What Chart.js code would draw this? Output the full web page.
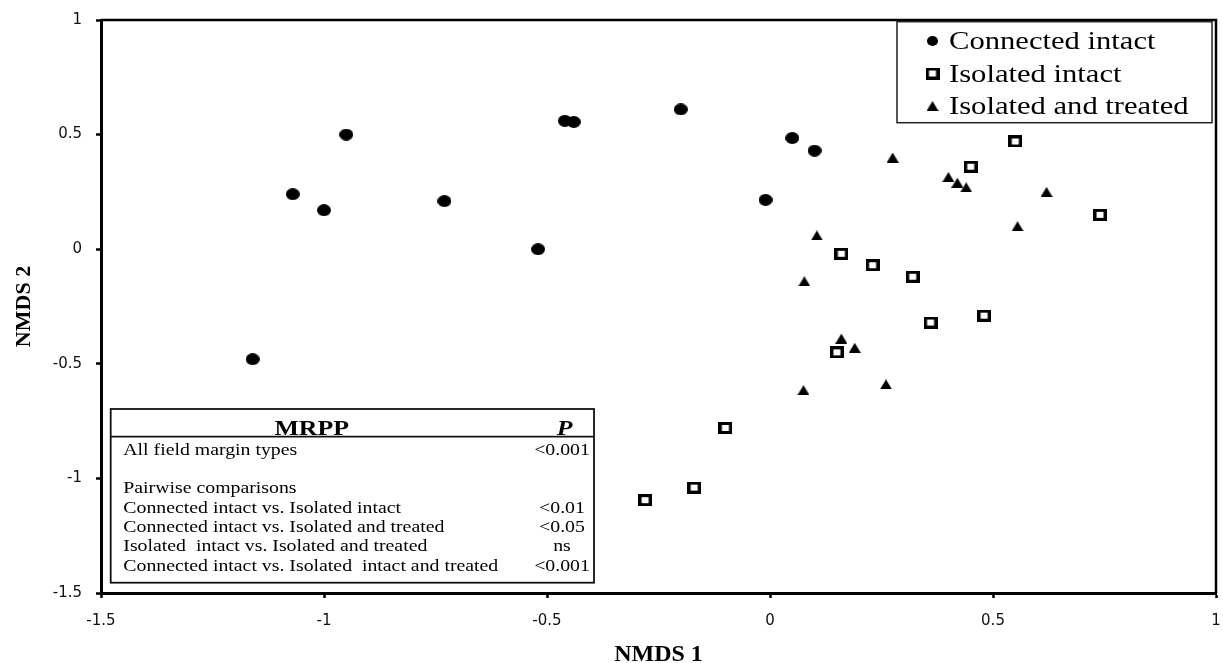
<!DOCTYPE html>
<html>
<head>
<meta charset="utf-8">
<title>NMDS ordination</title>
<script src="https://cdn.jsdelivr.net/npm/chart.js@4"></script>
<style>
  body { margin: 0; background: #fff; }
  canvas { display: block; }
</style>
</head>
<body>
<canvas id="graph-nmds" width="1223" height="663"></canvas>
<script>
// NMDS scores
const connectedX = [-1.16, -1.07, -1.00, -0.95, -0.73, -0.52, -0.46, -0.44, -0.20, -0.01, 0.05, 0.10]
const connectedY = [-0.48, 0.24, 0.17, 0.50, 0.21, 0.00, 0.56, 0.555, 0.61, 0.215, 0.485, 0.43]
const isolatedX = [-0.28, -0.17, -0.10, 0.15, 0.16, 0.23, 0.32, 0.36, 0.45, 0.48, 0.55, 0.74]
const isolatedY = [-1.095, -1.04, -0.78, -0.45, -0.02, -0.07, -0.12, -0.32, 0.36, -0.29, 0.47, 0.15]
const treatedX = [0.075, 0.077, 0.105, 0.16, 0.19, 0.26, 0.275, 0.40, 0.42, 0.44, 0.555, 0.62]
const treatedY = [-0.615, -0.14, 0.06, -0.39, -0.43, -0.59, 0.40, 0.315, 0.29, 0.27, 0.10, 0.25]

const seriesNames = ['Connected intact', 'Isolated intact', 'Isolated and treated']
const axisTicks = [-1.5, -1, -0.5, 0, 0.5, 1]

const mrppRows = ['All field margin types', '', 'Pairwise comparisons',
  'Connected intact vs. Isolated intact',
  'Connected intact vs. Isolated and treated',
  'Isolated  intact vs. Isolated and treated',
  'Connected intact vs. Isolated  intact and treated']
const mrppP = ['<0.001', '', '', '<0.01', '<0.05', 'ns', '<0.001']

// small canvases used as point styles
function marker(w, h, paint) {
  const c = document.createElement('canvas')
  c.width = w
  c.height = h
  paint(c.getContext('2d'), w, h)
  return c
}
const dot = (w, h) => marker(w, h, (g) => {
  g.fillStyle = '#000'
  g.beginPath()
  g.ellipse(w / 2, h / 2, w / 2, h / 2, 0, 0, Math.PI * 2)
  g.fill()
})
const box = (w, h) => marker(w, h, (g) => {
  g.fillStyle = '#000'
  g.fillRect(0, 0, w, h)
  g.fillStyle = '#fff'
  g.fillRect(3.5, 3, w - 7, h - 6)
})
const tri = (w, h) => marker(w, h, (g) => {
  g.fillStyle = '#000'
  g.beginPath()
  g.moveTo(w / 2, 0)
  g.lineTo(w, h)
  g.lineTo(0, h)
  g.closePath()
  g.fill()
})

const styles = [dot(14, 12), box(14, 12), tri(12, 10)]
const legendStyles = [dot(11, 10), box(14, 12), tri(12, 10)]

// the original figure is a bit wider than tall, so text is stretched
const SX = 1.2
function wide(ctx, text, x, y, align) {
  ctx.save()
  ctx.translate(x, y)
  ctx.scale(SX, 1)
  ctx.textAlign = align
  ctx.fillText(text, 0, 0)
  ctx.restore()
}

const extras = {
  id: 'extras',
  afterDraw(chart) {
    const {ctx, chartArea: a} = chart
    ctx.save()
    ctx.strokeStyle = '#000'
    ctx.lineWidth = 2.5
    ctx.beginPath()
    ctx.moveTo(a.left, a.top)
    ctx.lineTo(a.right, a.top)
    ctx.lineTo(a.right, a.bottom)
    ctx.stroke()

    // legend box, top right
    const lr = a.right - 4, lt = a.top + 1.7, ll = lr - 315
    ctx.fillStyle = '#fff'
    ctx.fillRect(ll, lt, 315, 101)
    ctx.strokeStyle = '#222'
    ctx.lineWidth = 1.5
    ctx.strokeRect(ll, lt, 315, 101)
    ctx.fillStyle = '#000'
    ctx.textBaseline = 'alphabetic'
    ctx.font = '25.5px "Liberation Serif"'
    chart.data.datasets.forEach((ds, i) => {
      const cy = lt + 19.3 + i * 32.5
      const img = legendStyles[i]
      ctx.drawImage(img, ll + 35.5 - img.width / 2, cy - img.height / 2)
      wide(ctx, ds.label, ll + 52, cy + 8.4, 'left')
    })

    // MRPP table, bottom left
    const tl = a.left + 9.7, tb = a.bottom - 10.3, tw = 483.3, th = 173.7
    const tt = tb - th
    ctx.fillStyle = '#fff'
    ctx.fillRect(tl, tt, tw, th)
    ctx.strokeStyle = '#111'
    ctx.lineWidth = 1.8
    ctx.strokeRect(tl, tt, tw, th)
    ctx.beginPath()
    ctx.moveTo(tl, tt + 27.7)
    ctx.lineTo(tl + tw, tt + 27.7)
    ctx.stroke()
    ctx.fillStyle = '#000'
    ctx.font = 'bold 21.5px "Liberation Serif"'
    wide(ctx, 'MRPP', tl + 201, tt + 26, 'center')
    ctx.font = 'italic bold 21.5px "Liberation Serif"'
    wide(ctx, 'P', tl + 454, tt + 26, 'center')
    ctx.font = '16.5px "Liberation Serif"'
    mrppRows.forEach((row, i) => {
      const by = tt + 40.3 + i * 19.3 + 5.5
      wide(ctx, row, tl + 12.6, by, 'left')
      if (mrppP[i]) wide(ctx, mrppP[i], tl + 451.3, by, 'center')
    })
    ctx.restore()
  }
}

const data = {
  datasets: [
    {label: seriesNames[0], data: connectedX.map((x, i) => ({x: x, y: connectedY[i]})), pointStyle: styles[0]},
    {label: seriesNames[1], data: isolatedX.map((x, i) => ({x: x, y: isolatedY[i]})), pointStyle: styles[1]},
    {label: seriesNames[2], data: treatedX.map((x, i) => ({x: x, y: treatedY[i]})), pointStyle: styles[2]}
  ].map(ds => Object.assign(ds, {pointRadius: 6, pointHoverRadius: 6, showLine: false}))
}

const tickFont = {family: '"DejaVu Sans"', size: 15}
const axisGrid = {drawOnChartArea: false, drawTicks: true, tickLength: 5, tickColor: '#000', tickWidth: 2.5, color: '#000'}
const axisBorder = {display: true, color: '#000', width: 3}

const config = {
  type: 'scatter',
  data: data,
  options: {
    responsive: false,
    animation: false,
    devicePixelRatio: 1,
    events: [],
    layout: {padding: {top: 20, right: 6, left: 0, bottom: 0}},
    plugins: {legend: {display: false}, tooltip: {enabled: false}},
    scales: {
      x: {
        type: 'linear', min: -1.5, max: 1,
        afterBuildTicks: s => { s.ticks = axisTicks.map(v => ({value: v})) },
        afterFit: s => { s.height = 70; s.paddingLeft = 0; s.paddingRight = 0 },
        grid: axisGrid, border: axisBorder,
        ticks: {font: tickFont, color: '#111', padding: 14, maxRotation: 0, callback: v => String(v)},
        title: {display: true, text: 'NMDS 1', color: '#000',
          font: {family: '"Liberation Serif"', size: 24, weight: 'bold', lineHeight: 1},
          padding: {top: 0, bottom: -4}}
      },
      y: {
        type: 'linear', min: -1.5, max: 1,
        afterBuildTicks: s => { s.ticks = axisTicks.map(v => ({value: v})) },
        afterFit: s => { s.width = 101; s.paddingTop = 0; s.paddingBottom = 0 },
        grid: axisGrid, border: axisBorder,
        ticks: {font: tickFont, color: '#111', padding: 14, callback: v => String(v)},
        title: {display: true, text: 'NMDS 2', color: '#000',
          font: {family: '"Liberation Serif"', size: 22, weight: 'bold', lineHeight: 1},
          padding: {top: 13, bottom: 0}}
      }
    }
  },
  plugins: [extras]
}

let chart = new Chart(document.querySelector('#graph-nmds'), config)
</script>
</body>
</html>
